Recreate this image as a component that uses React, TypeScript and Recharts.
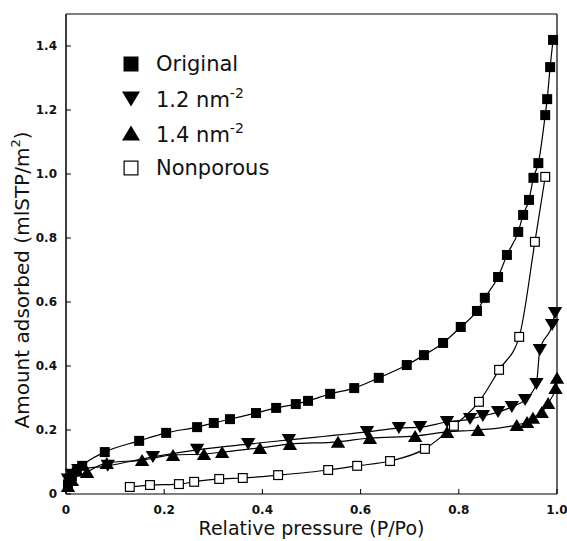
import { LineChart, Line, XAxis, YAxis, ReferenceLine, Legend } from "recharts";

// relative pressure (P/Po) and amount adsorbed (mlSTP/m2) per sample
const originalP = [0.004, 0.012, 0.022, 0.033, 0.079, 0.149, 0.204, 0.267, 0.301, 0.334, 0.387, 0.428, 0.468, 0.493, 0.538, 0.587, 0.637, 0.694, 0.729, 0.768, 0.804, 0.837, 0.853, 0.88, 0.898, 0.921, 0.931, 0.943, 0.952, 0.962, 0.976, 0.98, 0.986, 0.992];
const originalV = [0.03, 0.055, 0.07, 0.088, 0.131, 0.166, 0.191, 0.209, 0.222, 0.234, 0.253, 0.269, 0.281, 0.291, 0.313, 0.331, 0.363, 0.403, 0.434, 0.472, 0.522, 0.572, 0.613, 0.678, 0.747, 0.819, 0.872, 0.919, 0.988, 1.034, 1.184, 1.234, 1.334, 1.419];

const d12P = [0.004, 0.012, 0.025, 0.085, 0.177, 0.267, 0.371, 0.454, 0.613, 0.678, 0.721, 0.776, 0.823, 0.849, 0.88, 0.908, 0.935, 0.958, 0.965, 0.99, 0.996];
const d12V = [0.045, 0.06, 0.075, 0.088, 0.116, 0.138, 0.156, 0.169, 0.194, 0.206, 0.209, 0.225, 0.234, 0.244, 0.256, 0.272, 0.294, 0.344, 0.45, 0.528, 0.566];

const d14P = [0.004, 0.012, 0.043, 0.083, 0.155, 0.218, 0.281, 0.318, 0.395, 0.456, 0.554, 0.619, 0.711, 0.776, 0.839, 0.918, 0.939, 0.951, 0.969, 0.982, 0.997, 1.0];
const d14V = [0.025, 0.044, 0.069, 0.097, 0.106, 0.122, 0.125, 0.131, 0.144, 0.156, 0.163, 0.175, 0.181, 0.194, 0.2, 0.216, 0.225, 0.238, 0.256, 0.284, 0.331, 0.363];

const nonporousP = [0.13, 0.171, 0.23, 0.261, 0.312, 0.36, 0.432, 0.534, 0.593, 0.66, 0.731, 0.79, 0.841, 0.882, 0.923, 0.955, 0.976];
const nonporousV = [0.022, 0.028, 0.031, 0.038, 0.047, 0.05, 0.059, 0.075, 0.088, 0.103, 0.141, 0.213, 0.288, 0.388, 0.491, 0.788, 0.991];

const xTicks = [0, 0.2, 0.4, 0.6, 0.8, 1.0];
const yTicks = [0, 0.2, 0.4, 0.6, 0.8, 1.0, 1.2, 1.4];

const toRows = (p: number[], v: number[]) => p.map((x, i) => ({ p: x, v: v[i] }));

const FONT = "'DejaVu Sans', Verdana, sans-serif";
const fmt = (v: number) => (v === 0 ? "0" : v.toFixed(1));

type Kind = "square" | "down" | "up" | "open";

const Marker = ({ cx, cy, kind, s }: { cx: number; cy: number; kind: Kind; s: number }) => {
  const h = s / 2;
  if (kind === "square") return <rect x={cx - h} y={cy - h} width={s} height={s} fill="#000" />;
  if (kind === "open")
    return <rect x={cx - h + 0.6} y={cy - h + 0.6} width={s - 1.2} height={s - 1.2} fill="#fff" stroke="#000" strokeWidth={1.2} />;
  const w = s * 0.6;
  const t = s * 0.5;
  if (kind === "down")
    return <polygon points={`${cx - w},${cy - t} ${cx + w},${cy - t} ${cx},${cy + t}`} fill="#000" />;
  return <polygon points={`${cx - w},${cy + t} ${cx + w},${cy + t} ${cx},${cy - t}`} fill="#000" />;
};

const dotFor = (kind: Kind) => (props: any) =>
  <Marker key={`${kind}-${props.index}`} cx={props.cx} cy={props.cy} kind={kind} s={kind === "square" || kind === "open" ? 10 : 12} />;

const YTick = (props: any) => {
  const { x, y, payload } = props;
  const ax = x + 9;
  return (
    <g>
      <line x1={ax} x2={ax + 5} y1={y} y2={y} stroke="#000" />
      <text x={x} y={y} textAnchor="end" dominantBaseline="central" fontFamily={FONT} fontSize={12} fontWeight="bold" fill="#111">
        {fmt(payload.value)}
      </text>
    </g>
  );
};

const XTick = (props: any) => {
  const { x, y, payload } = props;
  const ay = y - 16;
  return (
    <g>
      <line x1={x} x2={x} y1={ay} y2={ay - 5} stroke="#000" />
      <text x={x} y={y} textAnchor="middle" dominantBaseline="central" fontFamily={FONT} fontSize={12} fontWeight="bold" fill="#111">
        {fmt(payload.value)}
      </text>
    </g>
  );
};

const legendItems: { kind: Kind; label: string; sup?: string }[] = [
  { kind: "square", label: "Original" },
  { kind: "down", label: "1.2 nm", sup: "-2" },
  { kind: "up", label: "1.4 nm", sup: "-2" },
  { kind: "open", label: "Nonporous" },
];

const LegendBox = () => (
  <div style={{ fontFamily: FONT, fontSize: 21, color: "#111" }}>
    {legendItems.map((it) => (
      <div key={it.label + it.kind} style={{ display: "flex", alignItems: "center", height: 34.5 }}>
        <svg width={22} height={22} style={{ marginRight: 14 }}>
          <Marker cx={11} cy={11} kind={it.kind} s={15} />
        </svg>
        <span>
          {it.label}
          {it.sup && <sup style={{ fontSize: 14, verticalAlign: 9 }}>{it.sup}</sup>}
        </span>
      </div>
    ))}
  </div>
);

export default function App() {
  return (
    <div style={{ position: "absolute", left: 0, top: 0, width: 567, height: 541, background: "#fff" }}>
      <LineChart width={567} height={541} margin={{ top: 14, right: 10, bottom: 0, left: 0 }}>
        <XAxis
          type="number"
          dataKey="p"
          domain={[0, 1]}
          ticks={xTicks}
          tickSize={0}
          tickMargin={16}
          height={47}
          tick={<XTick />}
          axisLine={{ stroke: "#000", strokeWidth: 1.2 }}
          allowDuplicatedCategory={false}
          label={({ viewBox }: any) => (
            <text x={viewBox.x + viewBox.width / 2} y={528} textAnchor="middle" dominantBaseline="central" fontFamily={FONT} fontSize={19} fill="#111">
              Relative pressure (P/Po)
            </text>
          )}
        />
        <YAxis
          type="number"
          domain={[0, 1.5]}
          ticks={yTicks}
          tickSize={0}
          tickMargin={9}
          width={66}
          tick={<YTick />}
          axisLine={{ stroke: "#000", strokeWidth: 1.5 }}
          label={() => (
            <text x={22} y={280} transform="rotate(-90 22 280)" textAnchor="middle" dominantBaseline="central" fontFamily={FONT} fontSize={20} fill="#111">
              Amount adsorbed (mlSTP/m<tspan dy={-7} fontSize={13}>2</tspan><tspan dy={7}>)</tspan>
            </text>
          )}
        />
        <ReferenceLine y={1.5} stroke="#000" strokeWidth={1.2} />
        <ReferenceLine x={1} stroke="#000" strokeWidth={1.2} />
        <Legend layout="vertical" align="center" verticalAlign="middle" wrapperStyle={{ left: 120, top: 47, width: 220 }} content={() => <LegendBox />} />
        <Line data={toRows(originalP, originalV)} dataKey="v" type="monotone" stroke="#000" strokeWidth={1.2} dot={dotFor("square")} isAnimationActive={false} legendType="none" />
        <Line data={toRows(d12P, d12V)} dataKey="v" type="monotone" stroke="#000" strokeWidth={1.2} dot={dotFor("down")} isAnimationActive={false} legendType="none" />
        <Line data={toRows(d14P, d14V)} dataKey="v" type="monotone" stroke="#000" strokeWidth={1.2} dot={dotFor("up")} isAnimationActive={false} legendType="none" />
        <Line data={toRows(nonporousP, nonporousV)} dataKey="v" type="monotone" stroke="#000" strokeWidth={1.2} dot={dotFor("open")} isAnimationActive={false} legendType="none" />
      </LineChart>
    </div>
  );
}
